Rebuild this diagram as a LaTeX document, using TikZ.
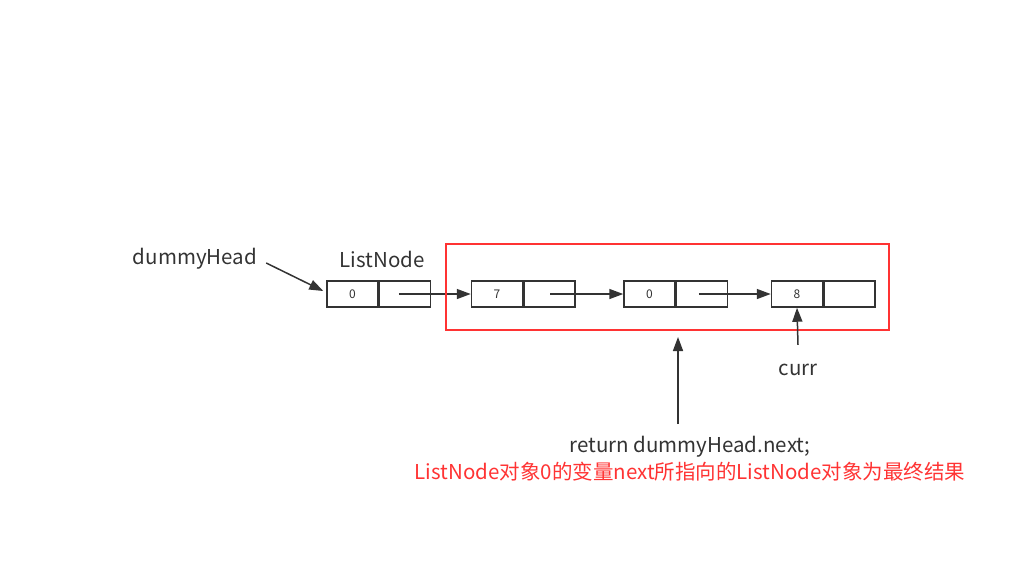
\documentclass[tikz,border=0pt]{standalone}
\usepackage{xcolor}
\usepackage{fontspec}
\setmainfont{Noto Sans CJK SC}
\usepackage{tikz}
\usetikzlibrary{arrows.meta, positioning, calc}
\definecolor{mydark}{RGB}{51,51,51}
\definecolor{myred}{RGB}{255,51,51}
\tikzset{
  valcell/.style={rectangle, draw=mydark, line width=1.5pt,
    minimum width=51pt, minimum height=26pt, inner sep=0pt,
    font=\fontsize{12}{14}\selectfont, text=mydark},
  ptrcell/.style={valcell, anchor=west},
  label/.style={font=\fontsize{20.5}{24}\selectfont, text=mydark, inner sep=2pt},
  ptr/.style={-{Triangle[length=14pt,width=10pt]}, line width=1.5pt, color=mydark},
  frame/.style={draw=myred, line width=1.5pt}
}

\begin{document}
\begin{tikzpicture}[x=1pt, y=-1pt]
  \useasboundingbox (0,0) rectangle (1025,573);

  % the four list nodes
  \node[valcell] (v1) at (352.5,294) {0};
  \node[ptrcell] (p1) at (v1.east) {};
  \node[valcell] (v2) at (497,294) {7};
  \node[ptrcell] (p2) at (v2.east) {};
  \node[valcell] (v3) at (649.5,294) {0};
  \node[ptrcell] (p3) at (v3.east) {};
  \node[valcell] (v4) at (797,294) {8};
  \node[ptrcell] (p4) at (v4.east) {};

  % next pointers
  \draw[ptr] ($(p1.west)+(20,0)$) -- (v2.west);
  \draw[ptr] ($(p2.west)+(27,0)$) -- (v3.west);
  \draw[ptr] ($(p3.west)+(23,0)$) -- (v4.west);

  % result part
  \draw[frame] (446,244) rectangle (889,330);

  \node[label] (dh) at (195,259) {dummyHead};
  \node[label] (ln) at (382,259) {ListNode};
  \draw[ptr] ($(dh.east)+(7,4)$) -- ($(v1.west)+(-3,-3)$);

  \node[label] (curr) at (798,370) {curr};
  \draw[ptr] ([yshift=17pt]curr.north) -- (v4.south);

  \node[label] (ret) at (690,447) {return dummyHead.next;};
  \node[label, text=myred] (res) at (690,472) {ListNode对象0的变量next所指向的ListNode对象为最终结果};
  \coordinate (rettail) at (678,424);
  \coordinate (rettip) at (678,337);
  \draw[ptr] (rettail) -- (rettip);
\end{tikzpicture}
\end{document}
